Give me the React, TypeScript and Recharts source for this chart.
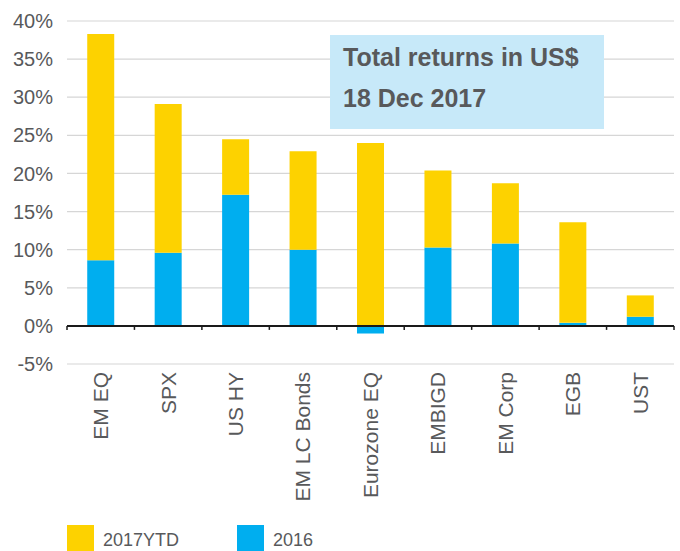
import React from 'react';
import { BarChart, Bar, XAxis, YAxis, CartesianGrid, ReferenceLine } from 'recharts';

const categories = ['EM EQ', 'SPX', 'US HY', 'EM LC Bonds', 'Eurozone EQ', 'EMBIGD', 'EM Corp', 'EGB', 'UST'];
const returns2016 = [8.6, 9.6, 17.2, 10.0, -1.0, 10.3, 10.8, 0.4, 1.2];
const returns2017Ytd = [29.7, 19.5, 7.3, 12.9, 24.0, 10.1, 7.9, 13.2, 2.8];
const yTicks = [-5, 0, 5, 10, 15, 20, 25, 30, 35, 40];

const FONT = '"Liberation Sans", Arial, sans-serif';
const TEXT = '#58595b';
const YELLOW = '#fdd200';
const BLUE = '#00aeef';

const data = categories.map((name, i) => ({
  name,
  y2016: returns2016[i],
  y2017: returns2017Ytd[i],
}));

// rotated category labels, reading bottom to top
const CategoryTick = (props: any) => {
  const { x, y, payload } = props;
  return (
    <text
      x={x}
      y={y}
      transform={`rotate(-90, ${x}, ${y})`}
      textAnchor="end"
      dy="0.35em"
      fill={TEXT}
      fontSize={21}
      fontFamily={FONT}
    >
      {payload.value}
    </text>
  );
};

// zero line with small ticks between the categories
const ZeroLine = (props: any) => {
  const { x1, y1, x2 } = props;
  const step = (x2 - x1) / categories.length;
  return (
    <g>
      <line x1={x1} y1={y1} x2={x2} y2={y1} stroke="#1a1a1a" strokeWidth={2} />
      {categories.concat(['']).map((_, i) => (
        <line key={i} x1={x1 + i * step} y1={y1} x2={x1 + i * step} y2={y1 + 4} stroke="#1a1a1a" strokeWidth={1.5} />
      ))}
    </g>
  );
};

const legendItems = [
  { label: '2017YTD', color: YELLOW, left: 67 },
  { label: '2016', color: BLUE, left: 237 },
];

export default function App() {
  return (
    <div style={{ position: 'absolute', left: 0, top: 0, width: 680, height: 551, background: '#fff', fontFamily: FONT }}>
      <BarChart
        width={680}
        height={551}
        data={data}
        stackOffset="sign"
        barCategoryGap="30%"
        margin={{ top: 21, right: 6, bottom: 0, left: 0 }}
      >
        <CartesianGrid vertical={false} stroke="#d6d6d6" strokeWidth={1.2} />
        <XAxis
          dataKey="name"
          height={187}
          axisLine={false}
          tickLine={false}
          interval={0}
          tick={<CategoryTick />}
        />
        <YAxis
          domain={[-5, 40]}
          ticks={yTicks}
          width={67}
          axisLine={false}
          tickLine={false}
          tickMargin={8}
          tickFormatter={(v: number) => `${v}%`}
          tick={{ fill: TEXT, fontSize: 20, fontFamily: FONT }}
        />
        <Bar dataKey="y2016" stackId="a" fill={BLUE} isAnimationActive={false} />
        <Bar dataKey="y2017" stackId="a" fill={YELLOW} isAnimationActive={false} />
        <ReferenceLine y={0} shape={<ZeroLine />} />
      </BarChart>

      <div
        style={{
          position: 'absolute',
          left: 330,
          top: 35,
          width: 274,
          height: 94,
          boxSizing: 'border-box',
          paddingLeft: 13,
          paddingTop: 2,
          background: '#c7e9f9',
          color: TEXT,
          fontWeight: 'bold',
          fontSize: 25,
          lineHeight: '41px',
        }}
      >
        <div>Total returns in US$</div>
        <div>18 Dec 2017</div>
      </div>

      {legendItems.map(item => (
        <div key={item.label} style={{ position: 'absolute', left: item.left, top: 523, display: 'flex', alignItems: 'center' }}>
          <div style={{ width: 27, height: 27, background: item.color }} />
          <span style={{ marginLeft: 9, fontSize: 18, color: TEXT, lineHeight: '27px', paddingTop: 4 }}>{item.label}</span>
        </div>
      ))}
    </div>
  );
}
